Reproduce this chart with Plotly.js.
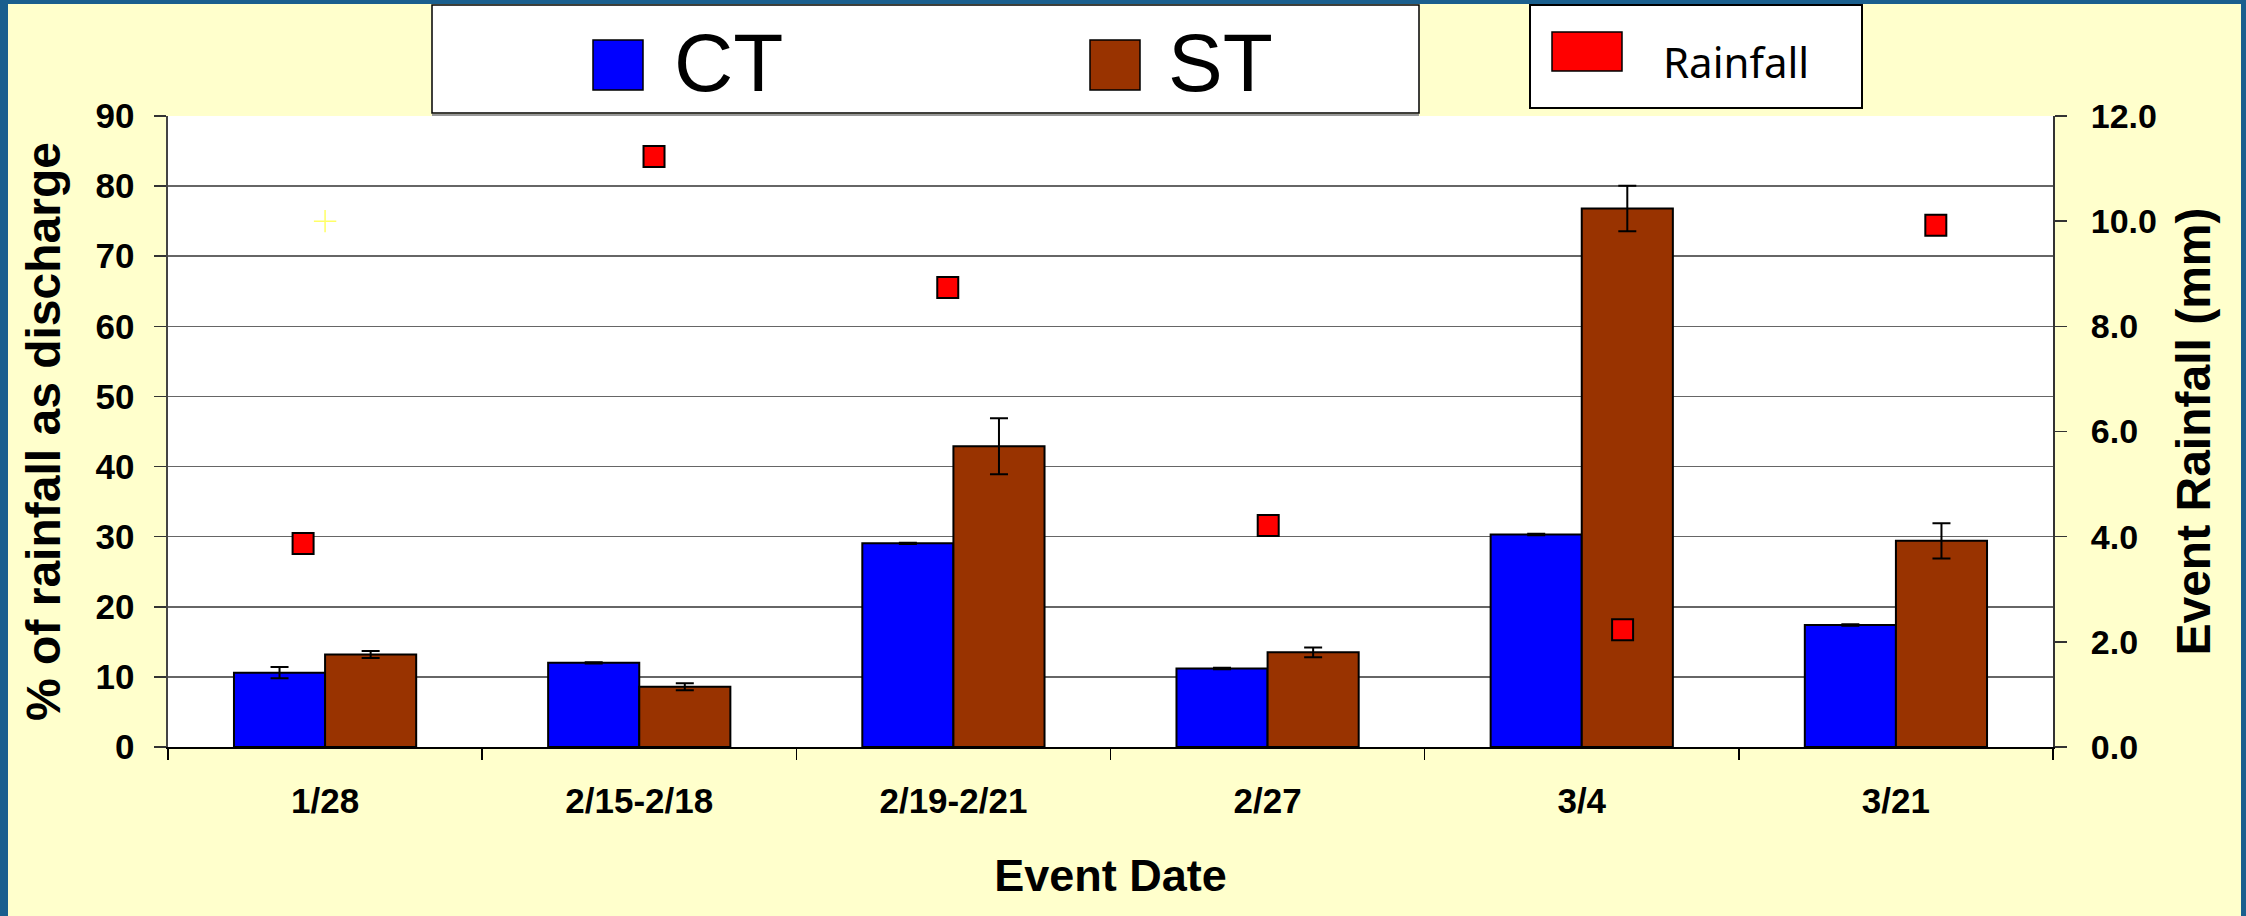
<!DOCTYPE html>
<html>
<head>
<meta charset="utf-8">
<script src="https://cdn.plot.ly/plotly-3.0.1.min.js"></script>
<style>html,body{margin:0;padding:0;background:#FFFFCC;}#chart{width:2246px;height:916px;}</style>
</head>
<body>
<div id="chart"></div>
<script>
// ---- data ----
const categories = ['1/28', '2/15-2/18', '2/19-2/21', '2/27', '3/4', '3/21'];
const ctValues = [10.6, 12.0, 29.05, 11.2, 30.3, 17.4];
const ctErrors = [0.8, 0.1, 0.1, 0.1, 0.1, 0.1];
const stValues = [13.2, 8.6, 42.9, 13.5, 76.8, 29.4];
const stErrors = [0.5, 0.5, 4.0, 0.7, 3.25, 2.5];
const rainfallValues = [3.87, 11.23, 8.74, 4.21, 2.23, 9.92];
// rainfall points sit on their own x scale (category units, as drawn in the source chart)
const rainfallX = [-0.07, 1.047, 1.982, 3.002, 4.13, 5.127];
const strayPointCat = ['1/28'];
const strayPointVal = [75];
const leftTicks = [0, 10, 20, 30, 40, 50, 60, 70, 80, 90];
const rightTicks = [0, 2, 4, 6, 8, 10, 12];

// ---- geometry helpers (pixels -> paper) ----
const W = 2246, H = 916;
const L = 168, R = 2053, T = 116, B = 747;
const px = x => (x - L) / (R - L);
const py = y => (B - y) / (B - T);

const FONT = 'Liberation Sans, Arial, sans-serif';

const traces = [
  {
    type: 'bar', name: 'CT', x: categories, y: ctValues,
    marker: {color: '#0000FF', line: {color: '#000000', width: 2}},
    error_y: {type: 'data', array: ctErrors, visible: true, color: '#000000', thickness: 2, width: 9},
    showlegend: false
  },
  {
    type: 'bar', name: 'ST', x: categories, y: stValues,
    marker: {color: '#993300', line: {color: '#000000', width: 2}},
    error_y: {type: 'data', array: stErrors, visible: true, color: '#000000', thickness: 2, width: 9},
    showlegend: false
  },
  {
    type: 'scatter', mode: 'markers', name: '', x: strayPointCat, y: strayPointVal,
    marker: {symbol: 'cross-thin-open', size: 16, color: '#FFFF66', line: {color: '#FFFF66', width: 1.5}},
    showlegend: false, hoverinfo: 'skip'
  },
  {
    type: 'scatter', mode: 'markers', name: 'Rainfall', x: rainfallX, y: rainfallValues,
    xaxis: 'x2', yaxis: 'y2',
    marker: {symbol: 'square', size: 21, color: '#FF0000', line: {color: '#000000', width: 2}},
    showlegend: false
  }
];

const shapes = [
  // blue outer frame
  {type: 'rect', xref: 'paper', yref: 'paper', x0: px(0), x1: px(8), y0: py(H), y1: py(0), fillcolor: '#1A5F8E', line: {width: 0}},
  {type: 'rect', xref: 'paper', yref: 'paper', x0: px(0), x1: px(W), y0: py(4), y1: py(0), fillcolor: '#1A5F8E', line: {width: 0}},
  {type: 'rect', xref: 'paper', yref: 'paper', x0: px(2241), x1: px(W), y0: py(H), y1: py(0), fillcolor: '#1A5F8E', line: {width: 0}},
  // legend boxes
  {type: 'rect', xref: 'paper', yref: 'paper', x0: px(432), x1: px(1419), y0: py(113), y1: py(5), fillcolor: '#FFFFFF', line: {color: '#000000', width: 1.5}},
  {type: 'line', xref: 'paper', yref: 'paper', x0: px(432), x1: px(1419), y0: py(115), y1: py(115), line: {color: '#999999', width: 2}},
  {type: 'rect', xref: 'paper', yref: 'paper', x0: px(1530), x1: px(1862), y0: py(108), y1: py(5), fillcolor: '#FFFFFF', line: {color: '#000000', width: 2}},
  // legend swatches
  {type: 'rect', xref: 'paper', yref: 'paper', x0: px(593), x1: px(643), y0: py(90), y1: py(40), fillcolor: '#0000FF', line: {color: '#000000', width: 1.5}},
  {type: 'rect', xref: 'paper', yref: 'paper', x0: px(1090), x1: px(1140), y0: py(90), y1: py(40), fillcolor: '#993300', line: {color: '#000000', width: 1.5}},
  {type: 'rect', xref: 'paper', yref: 'paper', x0: px(1552), x1: px(1622), y0: py(71), y1: py(32), fillcolor: '#FF0000', line: {color: '#000000', width: 1.5}}
];

const annotations = [
  {xref: 'paper', yref: 'paper', x: px(672), y: py(63), xanchor: 'left', yanchor: 'middle', text: 'CT', showarrow: false,
   font: {family: FONT, size: 82, color: '#000000'}},
  {xref: 'paper', yref: 'paper', x: px(1166), y: py(63), xanchor: 'left', yanchor: 'middle', text: 'ST', showarrow: false,
   font: {family: FONT, size: 82, color: '#000000'}},
  {xref: 'paper', yref: 'paper', x: px(1661), y: py(62), xanchor: 'left', yanchor: 'middle', text: 'Rainfall', showarrow: false,
   font: {family: 'Noto Sans, DejaVu Sans, sans-serif', size: 42, color: '#000000'}}
];

const layout = {
  width: W, height: H,
  margin: {l: L, r: W - R, t: T, b: H - B, pad: 0},
  paper_bgcolor: '#FFFFCC',
  plot_bgcolor: '#FFFFFF',
  barmode: 'group', bargap: 0.42, bargroupgap: 0,
  showlegend: false,
  font: {family: FONT, color: '#000000'},
  xaxis: {
    type: 'category', range: [-0.5, 5.5], fixedrange: true,
    tickson: 'boundaries', ticks: 'outside', ticklen: 11, tickcolor: '#000000', tickwidth: 1.5,
    showline: true, linecolor: '#000000', linewidth: 2,
    showgrid: false, zeroline: false,
    tickfont: {family: FONT, size: 35, color: '#000000', weight: 'bold'},
    ticklabelstandoff: 22,
    title: {text: 'Event Date', font: {family: FONT, size: 45, color: '#000000', weight: 'bold'}, standoff: 40}
  },
  xaxis2: {overlaying: 'x', range: [-0.5, 5.5], visible: false, fixedrange: true},
  yaxis: {
    range: [0, 90], tickvals: leftTicks, fixedrange: true,
    ticks: 'outside', ticklen: 12, tickcolor: '#333333', tickwidth: 1.5,
    showline: true, linecolor: '#444444', linewidth: 2.5,
    showgrid: true, gridcolor: '#666666', gridwidth: 1.5, zeroline: false,
    tickfont: {family: FONT, size: 35, color: '#000000', weight: 'bold'},
    ticklabelstandoff: 12,
    title: {text: '% of rainfall as discharge', font: {family: FONT, size: 48, color: '#000000', weight: 'bold'}, standoff: 20}
  },
  yaxis2: {
    overlaying: 'y', side: 'right', range: [0, 12], tickvals: rightTicks, tickformat: '.1f', fixedrange: true,
    ticks: 'outside', ticklen: 12, tickcolor: '#333333', tickwidth: 1.5,
    showline: true, linecolor: '#333333', linewidth: 2,
    showgrid: false, zeroline: false,
    tickfont: {family: FONT, size: 34, color: '#000000', weight: 'bold'},
    ticklabelstandoff: 17,
    title: {text: 'Event Rainfall (mm)', font: {family: FONT, size: 48, color: '#000000', weight: 'bold'}, standoff: 20}
  },
  shapes: shapes,
  annotations: annotations
};

Plotly.newPlot('chart', traces, layout, {displayModeBar: false, staticPlot: true});
</script>
</body>
</html>
